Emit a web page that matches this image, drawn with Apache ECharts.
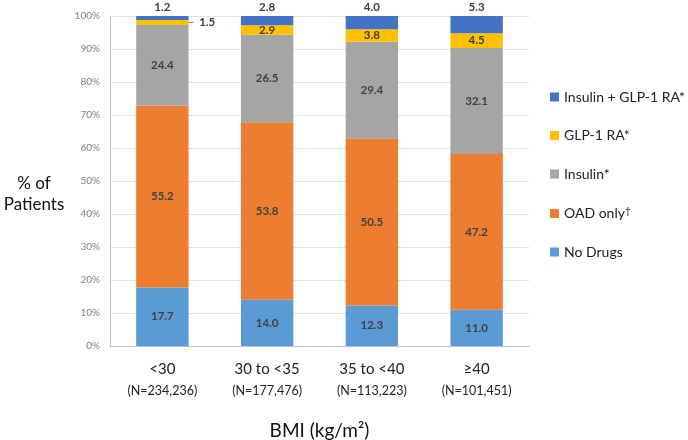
<!DOCTYPE html>
<html><head><meta charset="utf-8">
<script src="https://cdn.jsdelivr.net/npm/echarts@6/dist/echarts.min.js"></script>
<style>html,body{margin:0;padding:0;background:#fff}#c{width:688px;height:440px}</style>
</head><body><div id="c"></div>
<script>
const categories = ['<30', '30 to <35', '35 to <40', '≥40'];
const sampleSizes = ['(N=234,236)', '(N=177,476)', '(N=113,223)', '(N=101,451)'];
const noDrugs = [17.7, 14.0, 12.3, 11.0];
const oadOnly = [55.2, 53.8, 50.5, 47.2];
const insulin = [24.4, 26.5, 29.4, 32.1];
const glp1 = [1.5, 2.9, 3.8, 4.5];
const insulinGlp1 = [1.2, 2.8, 4.0, 5.3];
const yTicks = [0, 10, 20, 30, 40, 50, 60, 70, 80, 90, 100];

const FONT = 'Lato';
const labelStyle = {show: true, position: 'inside', fontFamily: FONT, fontSize: 11.5, fontWeight: 'bold', color: '#404040', formatter: p => p.value.toFixed(1)};

function mk(name, data, color, extra) {
  return Object.assign({
    name, type: 'bar', stack: 'all', barWidth: '50%', data,
    itemStyle: {color}, label: Object.assign({}, labelStyle)
  }, extra || {});
}

const glpData = glp1.map((v, i) => i === 0 ? {
  value: v,
  label: {position: 'right', distance: 0, formatter: '{l|}  1.5', offset: [0, 0],
    rich: {l: {width: 5, height: 1, backgroundColor: '#888'}}, fontSize: 11.5, fontWeight: 'bold', color: '#404040'}
} : v);

const topData = insulinGlp1.map(v => ({value: v}));

const chart = echarts.init(document.getElementById('c'));
chart.setOption({
  animation: false,
  textStyle: {fontFamily: FONT},
  grid: {left: 110, right: 159, top: 16, bottom: 94, containLabel: false, outerBoundsMode: 'none'},
  legend: {
    orient: 'vertical', left: 545, top: 85, itemGap: 24.5, itemWidth: 9, itemHeight: 9,
    icon: 'rect',
    data: ['Insulin + GLP-1 RA*', 'GLP-1 RA*', 'Insulin*', 'OAD only†', 'No Drugs'],
    formatter: n => n === 'OAD only†' ? 'OAD only{s|†}' : n,
    textStyle: {fontFamily: FONT, fontSize: 14, color: '#222', rich: {s: {fontSize: 10, verticalAlign: 'top', padding: [0,0,6,0], fontFamily: FONT, color: '#222'}}}
  },
  graphic: [{type: 'text', x: 34, y: 173, style: {text: '% of\nPatients', fontFamily: FONT, fontSize: 17, fill: '#111', align: 'center', lineHeight: 21}}],
  xAxis: {
    type: 'category', data: categories.map((c, i) => c + '\n' + sampleSizes[i]),
    axisLine: {lineStyle: {color: '#bfbfbf'}}, axisTick: {show: false},
    axisLabel: {interval: 0, margin: 12, formatter: v => { const [a, b] = v.split('\n'); return '{a|' + a + '}\n{b|' + b + '}'; },
      rich: {a: {fontFamily: FONT, fontSize: 15, color: '#222', lineHeight: 22}, b: {fontFamily: FONT, fontSize: 12.5, color: '#222', lineHeight: 21}}},
    name: 'BMI (kg/m²)', nameLocation: 'middle', nameGap: 75,
    nameTextStyle: {fontFamily: FONT, fontSize: 19, color: '#111'}
  },
  yAxis: {
    type: 'value', min: yTicks[0], max: yTicks[yTicks.length - 1], interval: 10,
    axisLine: {show: true, lineStyle: {color: '#bfbfbf'}},
    splitLine: {lineStyle: {color: '#e0e0e0'}},
    axisLabel: {formatter: '{value}%', fontFamily: FONT, fontSize: 10, color: '#7f7f7f', margin: 10}
  },
  series: [
    mk('No Drugs', noDrugs, '#5B9BD5'),
    mk('OAD only†', oadOnly, '#ED7D31'),
    mk('Insulin*', insulin, '#A5A5A5'),
    mk('GLP-1 RA*', glpData, '#FFC000'),
    mk('Insulin + GLP-1 RA*', topData, '#4472C4', {label: Object.assign({}, labelStyle, {position: 'top', distance: 3})})
  ]
});
</script></body></html>
